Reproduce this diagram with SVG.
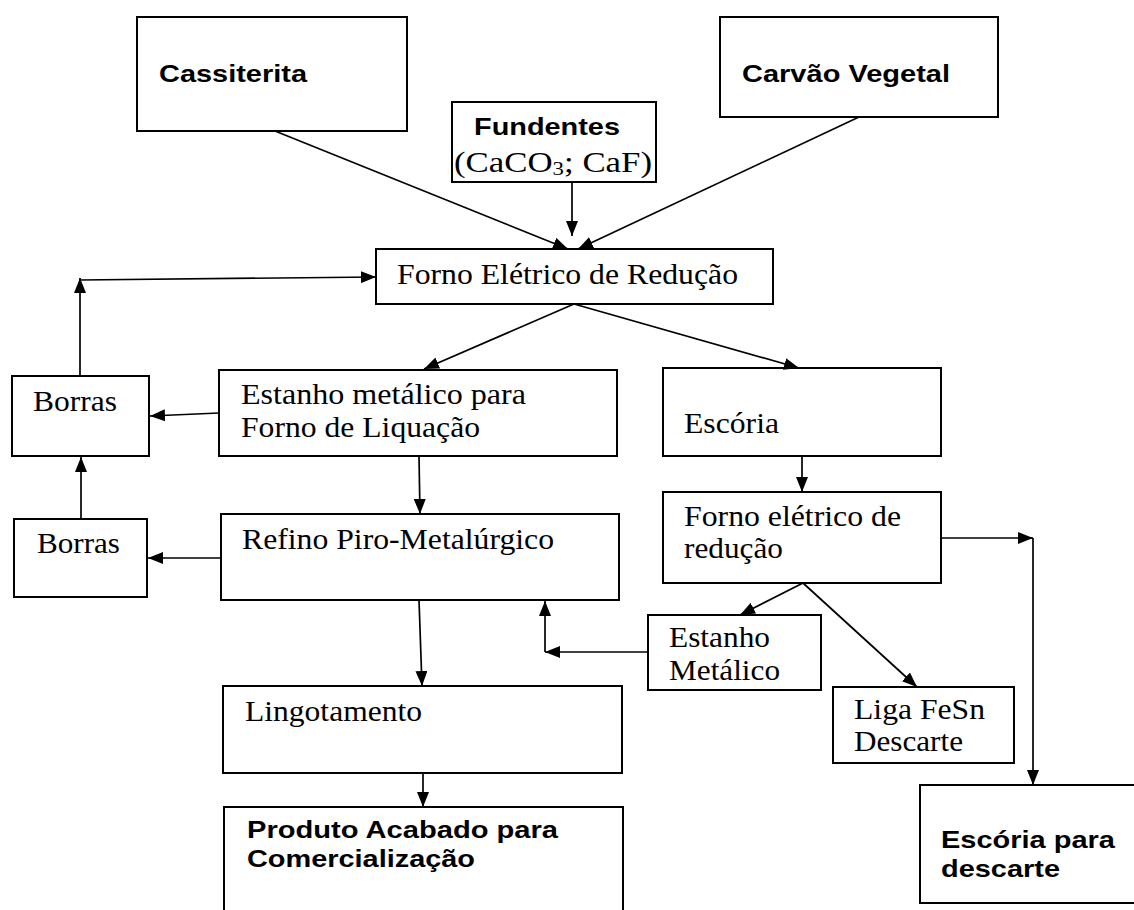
<svg xmlns="http://www.w3.org/2000/svg" width="1134" height="910" viewBox="0 0 1134 910">
<style>
.box{fill:#fff;stroke:#000;stroke-width:2}
.ser{font-family:"Liberation Serif","Times New Roman",serif;font-size:29px;fill:#000}
.bold{font-family:"Liberation Sans",Arial,sans-serif;font-size:24px;font-weight:bold;fill:#000}
.con line{stroke:#000;stroke-width:1.7;fill:none;marker-end:url(#ah)}
</style>
<defs>
<marker id="ah" viewBox="0 0 15 12" refX="15" refY="6" markerWidth="15" markerHeight="12" markerUnits="userSpaceOnUse" orient="auto">
<path d="M0,0 L15,6 L0,12 z" fill="#000"/>
</marker>
</defs>
<rect width="1134" height="910" fill="#fff"/>

<g id="cassiterita"><rect class="box" x="137" y="17" width="270" height="114"/><text class="bold" x="159" y="82" textLength="148" lengthAdjust="spacingAndGlyphs">Cassiterita</text></g>
<g id="carvao"><rect class="box" x="720" y="17" width="278" height="100"/><text class="bold" x="742" y="82" textLength="208" lengthAdjust="spacingAndGlyphs">Carvão Vegetal</text></g>
<g id="fundentes"><rect class="box" x="452" y="102" width="204" height="80"/><text class="bold" x="474" y="135" textLength="146" lengthAdjust="spacingAndGlyphs">Fundentes</text><text class="ser" x="454" y="172" textLength="198" lengthAdjust="spacingAndGlyphs">(CaCO<tspan font-size="19" dy="3">3</tspan><tspan dy="-3">; CaF)</tspan></text></g>
<g id="forno-reducao"><rect class="box" x="376" y="249" width="397" height="55"/><text class="ser" x="397" y="284" textLength="341" lengthAdjust="spacingAndGlyphs">Forno Elétrico de Redução</text></g>
<g id="borras1"><rect class="box" x="12" y="376" width="137" height="80"/><text class="ser" x="33" y="411" textLength="84" lengthAdjust="spacingAndGlyphs">Borras</text></g>
<g id="estanho-liquacao"><rect class="box" x="219" y="370" width="398" height="86"/><text class="ser" x="241" y="404" textLength="285" lengthAdjust="spacingAndGlyphs">Estanho metálico para</text><text class="ser" x="241" y="437" textLength="239" lengthAdjust="spacingAndGlyphs">Forno de Liquação</text></g>
<g id="escoria"><rect class="box" x="663" y="368" width="278" height="88"/><text class="ser" x="684" y="433" textLength="95" lengthAdjust="spacingAndGlyphs">Escória</text></g>
<g id="borras2"><rect class="box" x="14" y="519" width="133" height="78"/><text class="ser" x="37" y="553" textLength="83" lengthAdjust="spacingAndGlyphs">Borras</text></g>
<g id="refino"><rect class="box" x="221" y="514" width="398" height="86"/><text class="ser" x="242" y="549" textLength="312" lengthAdjust="spacingAndGlyphs">Refino Piro-Metalúrgico</text></g>
<g id="forno-eletrico"><rect class="box" x="663" y="492" width="278" height="91"/><text class="ser" x="684" y="526" textLength="217" lengthAdjust="spacingAndGlyphs">Forno elétrico de</text><text class="ser" x="684" y="558" textLength="99" lengthAdjust="spacingAndGlyphs">redução</text></g>
<g id="estanho-metalico"><rect class="box" x="648" y="615" width="173" height="75"/><text class="ser" x="669" y="647" textLength="101" lengthAdjust="spacingAndGlyphs">Estanho</text><text class="ser" x="669" y="680" textLength="111" lengthAdjust="spacingAndGlyphs">Metálico</text></g>
<g id="liga"><rect class="box" x="833" y="687" width="181" height="76"/><text class="ser" x="854" y="719" textLength="131" lengthAdjust="spacingAndGlyphs">Liga FeSn</text><text class="ser" x="854" y="751" textLength="109" lengthAdjust="spacingAndGlyphs">Descarte</text></g>
<g id="lingotamento"><rect class="box" x="223" y="686" width="399" height="87"/><text class="ser" x="245" y="721" textLength="177" lengthAdjust="spacingAndGlyphs">Lingotamento</text></g>
<g id="produto"><rect class="box" x="224" y="807" width="399" height="120"/><text class="bold" x="247" y="838" textLength="311" lengthAdjust="spacingAndGlyphs">Produto Acabado para</text><text class="bold" x="247" y="867" textLength="228" lengthAdjust="spacingAndGlyphs">Comercialização</text></g>
<g id="escoria-descarte"><rect class="box" x="920" y="785" width="230" height="118"/><text class="bold" x="941" y="848" textLength="174" lengthAdjust="spacingAndGlyphs">Escória para</text><text class="bold" x="941" y="877" textLength="119" lengthAdjust="spacingAndGlyphs">descarte</text></g>

<g id="connectors" class="con">
<line x1="275" y1="131" x2="568" y2="249"/>
<line x1="572" y1="182" x2="572" y2="236"/>
<line x1="859" y1="117" x2="578" y2="249"/>
<line x1="80" y1="376" x2="80" y2="278"/>
<line x1="80" y1="280" x2="376" y2="277"/>
<line x1="574" y1="304" x2="424" y2="369"/>
<line x1="574" y1="304" x2="799" y2="368"/>
<line x1="219" y1="413" x2="150" y2="416"/>
<line x1="419" y1="456" x2="420" y2="514"/>
<line x1="81" y1="519" x2="81" y2="457"/>
<line x1="221" y1="558" x2="148" y2="558"/>
<line x1="419" y1="600" x2="422" y2="686"/>
<line x1="802" y1="456" x2="802" y2="492"/>
<line x1="941" y1="538" x2="1033" y2="538"/>
<line x1="1033" y1="538" x2="1033" y2="785"/>
<line x1="803" y1="583" x2="740" y2="615"/>
<line x1="803" y1="583" x2="917" y2="687"/>
<line x1="648" y1="652" x2="545" y2="652"/>
<line x1="545" y1="652" x2="545" y2="601"/>
<line x1="423" y1="773" x2="423" y2="807"/>
</g>
</svg>
